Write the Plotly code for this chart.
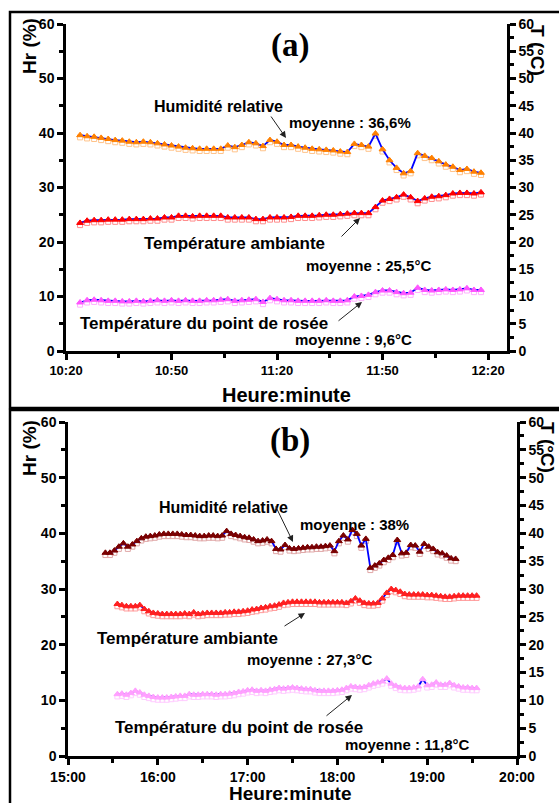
import plotly.graph_objects as go

# ---------------- DATA ----------------
# Panel (a): time in minutes since midnight
t_a = list(range(624, 739, 2))
hr_a = [39.6, 39.4, 39.3, 39.1, 38.9, 38.7, 38.6, 38.4, 38.3, 38.4,
        38.3, 38.1, 37.9, 37.7, 37.5, 37.3, 37.2, 37.1, 37.1, 37.1,
        37.1, 37.7, 37.4, 37.8, 38.3, 38.1, 37.6, 38.7, 38.4, 37.8,
        37.8, 37.5, 37.3, 37.1, 37.0, 36.9, 36.8, 36.6, 36.5, 38.0,
        37.8, 37.5, 39.9, 37.0, 35.0, 33.6, 32.6, 33.0, 36.3, 35.8,
        35.4, 34.8, 34.2, 33.8, 33.2, 33.4, 32.9, 32.7]
ta_a = [23.5, 23.9, 24.0, 24.0, 24.1, 24.1, 24.1, 24.2, 24.2, 24.2,
        24.3, 24.3, 24.5, 24.5, 24.8, 24.8, 24.7, 24.8, 24.8, 24.8,
        24.8, 24.5, 24.5, 24.5, 24.5, 24.2, 24.2, 24.5, 24.5, 24.5,
        24.6, 24.8, 24.8, 24.8, 24.9, 25.0, 25.0, 25.1, 25.2, 25.3,
        25.3, 25.3, 26.4, 27.6, 27.9, 28.2, 28.7, 28.2, 27.5, 28.0,
        28.3, 28.4, 28.6, 28.9, 29.0, 29.0, 28.9, 29.1]
td_a = [8.9, 9.3, 9.4, 9.3, 9.2, 9.2, 9.1, 9.1, 9.2, 9.1,
        9.2, 9.3, 9.2, 9.3, 9.2, 9.3, 9.2, 9.2, 9.3, 9.3,
        9.4, 9.5, 9.2, 9.3, 9.4, 9.5, 9.0, 9.7, 9.5, 9.3,
        9.3, 9.2, 9.2, 9.2, 9.2, 9.3, 9.2, 9.2, 9.3, 10.0,
        10.1, 10.3, 10.8, 11.1, 11.1, 10.8, 10.6, 10.7, 11.6, 11.2,
        11.1, 11.2, 11.3, 11.2, 11.3, 11.5, 11.2, 11.2]

# Panel (b)
t_hr_b = list(range(925, 1160, 3))
hr_b = [36.5, 36.5, 36.9, 37.6, 38.2, 37.6, 38.0, 38.6, 39.1, 39.4,
        39.5, 39.6, 39.8, 39.9, 39.9, 39.9, 39.9, 39.8, 39.7, 39.7,
        39.6, 39.5, 39.5, 39.6, 39.6, 39.5, 39.6, 40.4, 39.9, 39.7,
        39.5, 39.3, 39.2, 38.9, 38.6, 38.7, 38.9, 38.6, 37.2, 37.1,
        37.9, 37.3, 37.2, 37.3, 37.4, 37.5, 37.5, 37.6, 37.6, 37.7,
        37.8, 36.8, 38.6, 39.6, 38.9, 40.6, 39.9, 37.8, 39.0, 33.8,
        34.2, 34.6, 35.2, 35.6, 36.1, 38.8, 36.4, 36.5, 37.9, 37.8,
        36.7, 38.1, 37.6, 37.2, 36.6, 36.4, 36.0, 35.5, 35.4]
t_t_b = list(range(933, 1174, 3))
ta_b = [27.3, 27.1, 26.9, 26.9, 26.9, 27.1, 26.4, 26.0, 25.7, 25.6,
        25.5, 25.5, 25.5, 25.5, 25.5, 25.6, 25.5, 25.8, 25.5, 25.6,
        25.7, 25.7, 25.7, 25.7, 25.8, 25.8, 25.9, 25.9, 26.0, 26.1,
        26.3, 26.4, 26.6, 26.7, 26.9, 27.0, 27.2, 27.5, 27.6, 27.7,
        27.7, 27.7, 27.7, 27.7, 27.7, 27.6, 27.6, 27.6, 27.6, 27.6,
        27.6, 27.5, 27.8, 28.3, 27.9, 27.5, 27.4, 27.4, 27.5, 28.3,
        29.3, 30.0, 29.8, 29.5, 29.1, 29.0, 29.0, 29.0, 29.0, 28.9,
        28.9, 28.8, 28.7, 28.6, 28.6, 28.7, 28.8, 28.8, 28.8, 28.8,
        28.8]
td_b = [11.1, 11.2, 11.0, 11.3, 11.7, 11.4, 11.0, 10.8, 10.6, 10.5,
        10.5, 10.5, 10.6, 10.7, 10.8, 10.8, 11.1, 11.0, 11.0, 11.1,
        11.1, 11.1, 11.0, 11.1, 11.1, 11.2, 11.3, 11.5, 11.6, 11.8,
        11.9, 11.7, 11.8, 11.7, 11.9, 12.0, 12.2, 12.1, 12.2, 12.3,
        12.2, 12.1, 12.0, 12.0, 11.8, 11.7, 11.7, 11.7, 11.7, 11.8,
        11.9, 12.2, 12.5, 12.4, 12.3, 12.4, 12.7, 13.0, 13.2, 13.4,
        13.9, 13.0, 12.6, 12.3, 12.2, 12.2, 12.3, 12.5, 13.8, 12.7,
        12.8, 13.2, 12.8, 12.8, 13.1, 12.7, 12.5, 12.3, 12.3, 12.2,
        12.2]

xticks_a = [620, 650, 680, 710, 740]
xticklabels_a = ["10:20", "10:50", "11:20", "11:50", "12:20"]
xticks_b = [900, 960, 1020, 1080, 1140, 1200]
xticklabels_b = ["15:00", "16:00", "17:00", "18:00", "19:00", "20:00"]

# ---------------- FIGURE ----------------
W, H = 559, 803
def px(x):
    return x / W
def py(y):
    return 1 - y / H

FONT = "Liberation Sans"
fig = go.Figure()

def add_series(x, y, xa, ya_main, ya_shadow, col, shadow_col):
    fig.add_trace(go.Scatter(x=x, y=y, xaxis=xa, yaxis=ya_shadow, mode="markers",
                             marker=dict(symbol="square-open", size=5, color=shadow_col,
                                         line=dict(width=1, color=shadow_col)),
                             showlegend=False, hoverinfo="skip"))
    fig.add_trace(go.Scatter(x=x, y=y, xaxis=xa, yaxis=ya_main, mode="lines",
                             line=dict(color="#0000FF", width=1.8),
                             showlegend=False, hoverinfo="skip"))
    fig.add_trace(go.Scatter(x=x, y=y, xaxis=xa, yaxis=ya_main, mode="markers",
                             marker=dict(symbol="triangle-up", size=6, color=col,
                                         line=dict(width=1, color=col)),
                             showlegend=False))

# panel (a)
add_series(t_a, hr_a, "x", "y2", "y", "#FF8000", "#FFC38A")
add_series(t_a, ta_a, "x", "y3", "y", "#FF0000", "#FF8C8C")
add_series(t_a, td_a, "x", "y3", "y", "#FF55FF", "#FFB0FF")
# panel (b)
add_series(t_hr_b, hr_b, "x2", "y5", "y4", "#7A0000", "#E0A8A8")
add_series(t_t_b, ta_b, "x2", "y6", "y4", "#FF2020", "#FF9A9A")
add_series(t_t_b, td_b, "x2", "y6", "y4", "#FFA0FF", "#FFCCFF")

tickfont = dict(family=FONT, size=14, color="black", weight="bold")
axis_common = dict(showline=True, linewidth=2.5, linecolor="black", ticks="outside",
                   ticklen=6, tickwidth=2.5, tickcolor="black", showgrid=False,
                   zeroline=False, automargin=False)
minor_y = dict(ticks="outside", ticklen=4, tickwidth=2.5, tickcolor="black")

dom_xa = [px(66), px(507)]
dom_ya = [py(351), py(24)]
dom_xb = [px(68), px(517)]
dom_yb = [py(756), py(422)]

fig.update_layout(
    width=W, height=H, margin=dict(l=0, r=0, t=0, b=0, autoexpand=False),
    paper_bgcolor="white", plot_bgcolor="white", showlegend=False,
    xaxis=dict(domain=dom_xa, anchor="y", range=[620, 745.4], tickmode="array",
               tickvals=xticks_a, ticktext=xticklabels_a,
               minor=dict(tickvals=[635, 665, 695, 725], **minor_y),
               tickfont=dict(family=FONT, size=13, color="black", weight="bold"),
               **axis_common),
    yaxis=dict(domain=dom_ya, anchor="x", range=[0.4, 60.4], visible=False),
    yaxis2=dict(domain=dom_ya, anchor="x", overlaying="y", side="left", range=[0, 60],
                dtick=10, minor=dict(dtick=5, **minor_y), tickfont=tickfont, **axis_common),
    yaxis3=dict(domain=dom_ya, anchor="x", overlaying="y", side="right", range=[0, 60],
                dtick=5, minor=dict(dtick=2.5, **minor_y), tickfont=tickfont, **axis_common),
    xaxis2=dict(domain=dom_xb, anchor="y4", range=[900, 1200], tickmode="array",
                tickvals=xticks_b, ticktext=xticklabels_b,
                minor=dict(tickvals=[930, 990, 1050, 1110, 1170], **minor_y),
                tickfont=tickfont, **axis_common),
    yaxis4=dict(domain=dom_yb, anchor="x2", range=[0.4, 60.4], visible=False),
    yaxis5=dict(domain=dom_yb, anchor="x2", overlaying="y4", side="left", range=[0, 60],
                dtick=10, minor=dict(dtick=5, **minor_y), tickfont=tickfont, **axis_common),
    yaxis6=dict(domain=dom_yb, anchor="x2", overlaying="y4", side="right", range=[0, 60],
                dtick=5, minor=dict(dtick=2.5, **minor_y), tickfont=tickfont, **axis_common),
)

# frames around panels
fig.add_shape(type="rect", xref="paper", yref="paper", x0=px(10), x1=px(570),
              y0=py(408), y1=py(12), line=dict(color="black", width=2.5))
fig.add_shape(type="rect", xref="paper", yref="paper", x0=px(10), x1=px(570),
              y0=py(815), y1=py(410), line=dict(color="black", width=2.5))

def text(x, y, s, size, anchor="left", angle=0, family=FONT):
    fig.add_annotation(x=px(x), y=py(y), xref="paper", yref="paper", text=s,
                       showarrow=False, xanchor=anchor, yanchor="middle", textangle=angle,
                       font=dict(family=family, size=size, color="black", weight="bold"))

def arrow(tx, ty, hx, hy):
    fig.add_annotation(x=px(hx), y=py(hy), xref="paper", yref="paper", text="",
                       showarrow=True, ax=tx - hx, ay=ty - hy, arrowhead=2,
                       arrowsize=1.3, arrowwidth=1, arrowcolor="#222222")

# panel (a) labels
text(290, 45, "(a)", 33, "center", family="Liberation Serif")
text(152, 107, "Humidité relative", 16)
arrow(270, 115, 286, 138)
text(287, 123, "moyenne : 36,6%", 15)
text(142, 243, "Température ambiante", 17)
arrow(340, 238, 360, 218)
text(304, 265, "moyenne : 25,5°C", 15)
text(78, 323, "Température du point de rosée", 17)
arrow(337, 322, 362, 302)
text(293, 339, "moyenne : 9,6°C", 15)
text(286, 395, "Heure:minute", 20, "center")
text(29, 46, "Hr (%)", 19, "center", -90)
text(538, 50, "T (°C)", 19, "center", 90)

# panel (b) labels
text(290, 440, "(b)", 33, "center", family="Liberation Serif")
text(157, 507, "Humidité relative", 16)
arrow(275, 505, 293, 542)
text(298, 524, "moyenne : 38%", 15)
text(95, 638, "Température ambiante", 17)
arrow(283, 627, 305, 613)
text(245, 659, "moyenne : 27,3°C", 15)
text(113, 727, "Température du point de rosée", 17)
arrow(325, 717, 352, 695)
text(343, 744, "moyenne : 11,8°C", 15)
text(290, 793, "Heure:minute", 19, "center")
text(29, 448, "Hr (%)", 19, "center", -90)
text(548, 447, "T (°C)", 19, "center", 90)

fig.write_html("out.html", config={"displayModeBar": False},
               post_script="document.body.style.margin='0px';")
